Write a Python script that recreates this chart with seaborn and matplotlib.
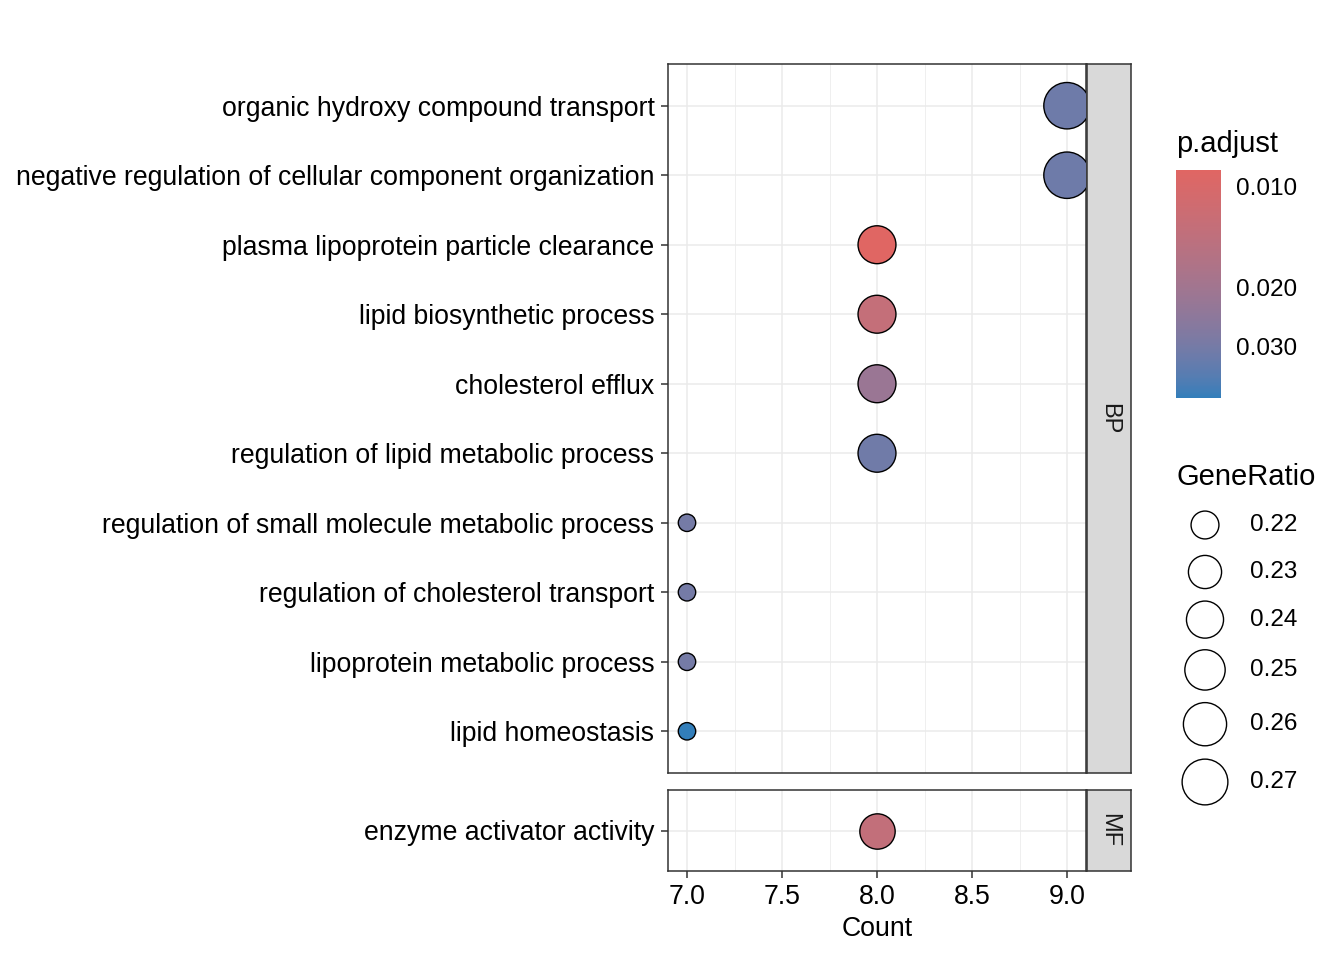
import numpy as np
import pandas as pd
import matplotlib
matplotlib.use("Agg")
import matplotlib.pyplot as plt
import matplotlib.colors as mcolors
import matplotlib.cm as mcm
import seaborn as sns

# ---------------- data ----------------
terms = [
    "organic hydroxy compound transport",
    "negative regulation of cellular component organization",
    "plasma lipoprotein particle clearance",
    "lipid biosynthetic process",
    "cholesterol efflux",
    "regulation of lipid metabolic process",
    "regulation of small molecule metabolic process",
    "regulation of cholesterol transport",
    "lipoprotein metabolic process",
    "lipid homeostasis",
    "enzyme activator activity",
]
ontology = ["BP"] * 10 + ["MF"]
counts = [9, 9, 8, 8, 8, 8, 7, 7, 7, 7, 8]
gene_ratio = [0.2727, 0.2727, 0.2424, 0.2424, 0.2424, 0.2424,
              0.2121, 0.2121, 0.2121, 0.2121, 0.2353]
p_adjust = [0.0315, 0.0315, 0.0089, 0.0132, 0.0215, 0.0310,
            0.0300, 0.0300, 0.0300, 0.0426, 0.0135]

x_ticks = [7.0, 7.5, 8.0, 8.5, 9.0]
cbar_ticks = [0.010, 0.020, 0.030]
size_breaks = [0.22, 0.23, 0.24, 0.25, 0.26, 0.27]

df = pd.DataFrame({"Description": terms, "ONTOLOGY": ontology, "Count": counts,
                   "GeneRatio": gene_ratio, "p.adjust": p_adjust})

# ---------------- style ----------------
sns.set_style("white")
plt.rcParams["font.family"] = ["Liberation Sans", "DejaVu Sans"]
plt.rcParams["text.color"] = "black"

W, H = 1344, 960
fig = plt.figure(figsize=(W / 100, H / 100), dpi=100)
fig.patch.set_facecolor("white")


def box(l, t, r, b):
    return [l / W, 1 - b / H, (r - l) / W, (b - t) / H]


# ---------------- Lab gradient colormap (like ggplot) ----------------
M = np.array([[0.4124, 0.3576, 0.1805], [0.2126, 0.7152, 0.0722], [0.0193, 0.1192, 0.9505]])
WHITE = np.array([0.95047, 1.0, 1.08883])


def rgb_to_lab(c):
    c = np.where(c <= 0.04045, c / 12.92, ((c + 0.055) / 1.055) ** 2.4)
    xyz = M @ c / WHITE
    d = 6 / 29
    f = np.where(xyz > d ** 3, np.cbrt(xyz), xyz / (3 * d * d) + 4 / 29)
    return np.array([116 * f[1] - 16, 500 * (f[0] - f[1]), 200 * (f[1] - f[2])])


def lab_to_rgb(lab):
    L, a, b = lab
    fy = (L + 16) / 116
    f = np.array([fy + a / 500, fy, fy - b / 200])
    d = 6 / 29
    xyz = np.where(f > d, f ** 3, 3 * d * d * (f - 4 / 29)) * WHITE
    lin = np.clip(np.linalg.inv(M) @ xyz, 0, 1)
    return np.clip(np.where(lin <= 0.0031308, 12.92 * lin, 1.055 * lin ** (1 / 2.4) - 0.055), 0, 1)


low_lab = rgb_to_lab(np.array(mcolors.to_rgb("#e06663")))
high_lab = rgb_to_lab(np.array(mcolors.to_rgb("#327eba")))
cols = [lab_to_rgb(low_lab + (high_lab - low_lab) * t) for t in np.linspace(0, 1, 256)]
cmap = mcolors.ListedColormap(cols)

pmin, pmax = df["p.adjust"].min(), df["p.adjust"].max()
norm = mcolors.LogNorm(vmin=pmin, vmax=pmax)

gmin, gmax = df["GeneRatio"].min(), df["GeneRatio"].max()


def size_mm(v):
    t = np.clip((np.asarray(v, dtype=float) - gmin) / (gmax - gmin), 0, 1)
    return 3 + 5 * np.sqrt(t)


def diam_px(v):
    return 5.8 * size_mm(v)


def area_pt2(v):
    return (0.72 * diam_px(v)) ** 2


# ---------------- panels ----------------
grid_major = "#EBEBEB"
frame = "#333333"
xlim = (6.9, 9.1)
AXFS = 19.2

panels = [("BP", box(668, 64, 1086, 773), box(1087, 64, 1131, 773)),
          ("MF", box(668, 790, 1086, 871), box(1087, 790, 1131, 871))]

for i, (ont, pbox, sbox) in enumerate(panels):
    ax = fig.add_axes(pbox)
    sub = df[df["ONTOLOGY"] == ont].reset_index(drop=True)
    n = len(sub)
    ax.set_axisbelow(True)
    sns.scatterplot(data=sub, x="Count", y="Description", hue="p.adjust",
                    palette=cmap, hue_norm=norm, s=area_pt2(sub["GeneRatio"]),
                    edgecolor="black", linewidth=1.0, legend=False, ax=ax, zorder=3)
    ax.set_xlim(*xlim)
    ax.set_ylim(n - 1 + 0.6, -0.6)
    ax.set_xticks(x_ticks)
    ax.set_xticks([7.25, 7.75, 8.25, 8.75], minor=True)
    ax.grid(True, which="major", color=grid_major, linewidth=1.1)
    ax.grid(True, which="minor", axis="x", color=grid_major, linewidth=0.55)
    ax.set_yticks(range(n))
    ax.set_yticklabels(sub["Description"])
    ax.tick_params(axis="y", which="major", left=True, length=5.3, width=1.1, color=frame,
                   labelsize=AXFS, labelcolor="black", pad=4.5)
    ax.tick_params(axis="x", which="minor", bottom=False)
    ax.set_ylabel("")
    for sp in ax.spines.values():
        sp.set_color(frame)
        sp.set_linewidth(1.1)
    if i == 0:
        ax.tick_params(axis="x", which="major", bottom=False, labelbottom=False)
        ax.set_xlabel("")
    else:
        ax.set_xticklabels([f"{v:.1f}" for v in x_ticks])
        ax.tick_params(axis="x", which="major", bottom=True, length=5.3, width=1.1,
                       color=frame, labelsize=AXFS, labelcolor="black", pad=4.3)
        ax.set_xlabel("Count", fontsize=AXFS, labelpad=4, color="black")

    sax = fig.add_axes(sbox)
    sax.set_facecolor("#D9D9D9")
    sax.set_xticks([])
    sax.set_yticks([])
    for sp in sax.spines.values():
        sp.set_color(frame)
        sp.set_linewidth(1.1)
    sax.text(0.5, 0.5, ont, rotation=-90, ha="center", va="center",
             fontsize=17, color="#1A1A1A", transform=sax.transAxes)

# ---------------- colour bar legend ----------------
fig.text(1176 / W, 1 - 152 / H, "p.adjust", fontsize=21, ha="left", va="baseline", color="black")
cax = fig.add_axes(box(1176, 170, 1221, 398))
sm = mcm.ScalarMappable(norm=norm, cmap=cmap)
cbar = fig.colorbar(sm, cax=cax)
cbar.outline.set_visible(False)
cax.invert_yaxis()
cbar.set_ticks(cbar_ticks)
cbar.set_ticklabels([f"{v:.3f}" for v in cbar_ticks])
cax.yaxis.set_minor_locator(matplotlib.ticker.NullLocator())
cax.tick_params(which="major", direction="in", left=True, right=True, color="white",
                length=6.5, width=1.0, labelsize=17.5, labelcolor="black", pad=11)

# ---------------- size legend ----------------
fig.text(1176 / W, 1 - 485 / H, "GeneRatio", fontsize=21, ha="left", va="baseline", color="black")
lax = fig.add_axes(box(1170, 495, 1340, 815))
lax.set_xlim(0, 170)
lax.set_ylim(320, 0)
lax.axis("off")
d = diam_px(size_breaks)
h = np.maximum(47, d * 1.3)
centers = 30 + np.concatenate([[0], np.cumsum((h[:-1] + h[1:]) / 2)])
lax.scatter(np.full(len(size_breaks), 35), centers, s=area_pt2(size_breaks),
            facecolor="white", edgecolor="black", linewidth=1.0, clip_on=False)
for c, v in zip(centers, size_breaks):
    lax.text(80, c, f"{v:.2f}", fontsize=17.5, ha="left", va="center", color="black")

fig.savefig("out.png", dpi=100, facecolor="white")
